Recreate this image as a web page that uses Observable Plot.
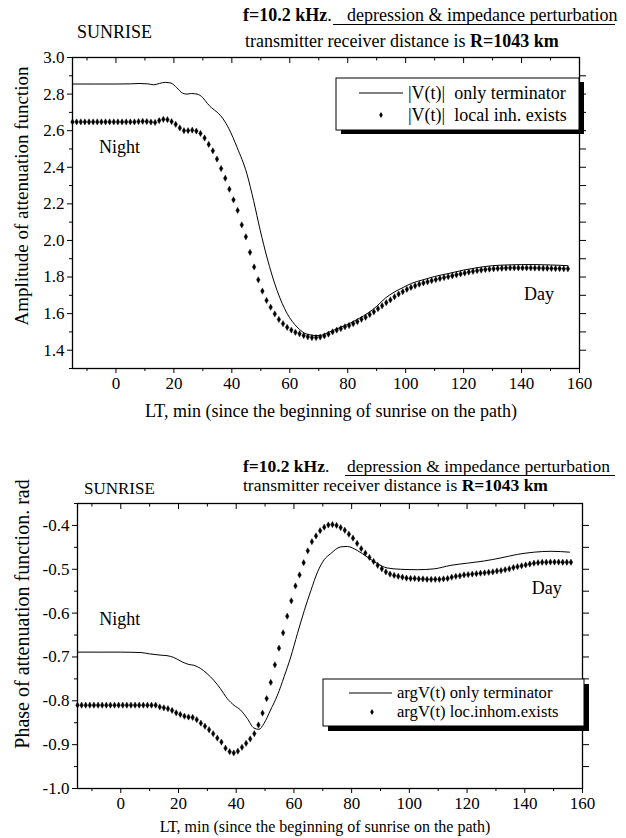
<!DOCTYPE html>
<html><head><meta charset="utf-8">
<script src="https://cdn.jsdelivr.net/npm/d3@7"></script>
<script src="https://cdn.jsdelivr.net/npm/@observablehq/plot@0.6"></script>
<style>
body{margin:0;background:#fff;}
#page{position:relative;width:626px;height:838px;overflow:hidden;font-family:"Liberation Serif",serif;}
#page > div{position:absolute;left:0;}
#page svg text{font-family:"Liberation Serif",serif !important;}
</style></head><body><div id="page"><div id="c1" style="top:0"></div><div id="c2" style="top:440px"></div></div>
<script>
// ---------- data ----------
const T0 = -15, DT = 1.425;   // sampling of the dotted series (min)

// |V(t)| only terminator (solid line): time (min) and value
const ampTermT = [-15,0,5,8,11,13,15,17,19,21,23,24.5,26,28,30,31.5,33,35,37,39,41.8,45.2,47.5,49.8,52.1,55.6,59.1,62.5,66,69.4,71,73,75.5,78,81,84,87,90,93,96,99,102,106,110,115,120,125,130,135,140,145,150,156];
const ampTermV = [2.855,2.855,2.856,2.858,2.856,2.851,2.858,2.864,2.86,2.835,2.805,2.80,2.803,2.80,2.78,2.75,2.725,2.70,2.664,2.61,2.509,2.364,2.218,2.055,1.909,1.727,1.60,1.527,1.487,1.480,1.482,1.495,1.512,1.528,1.549,1.575,1.603,1.64,1.685,1.717,1.742,1.765,1.785,1.803,1.82,1.838,1.852,1.862,1.866,1.868,1.868,1.866,1.862];
// |V(t)| local inh. exists (dots), one value per sample
const ampLocV = [2.648,2.648,2.648,2.648,2.648,2.648,2.648,2.648,2.648,2.648,2.648,2.648,2.648,2.648,2.648,2.648,2.650,2.651,2.650,
 2.647,2.645,2.655,2.662,2.660,2.650,2.635,2.615,2.600,2.600,2.603,2.598,2.585,2.560,2.525,2.490,2.445,2.393,2.340,2.280,2.222,2.164,
 2.085,2.020,1.935,1.855,1.785,1.723,1.672,1.635,1.598,1.568,1.545,1.525,1.510,1.498,1.490,1.480,1.473,1.469,1.469,1.472,
 1.478,1.488,1.500,1.510,1.518,1.528,1.535,1.545,1.556,1.569,1.580,1.595,1.610,1.627,1.643,1.660,1.675,1.692,1.707,1.720,
 1.733,1.743,1.752,1.761,1.768,1.774,1.780,1.786,1.792,1.797,1.802,1.807,1.812,1.817,1.822,1.827,1.831,1.835,1.838,1.841,
 1.843,1.845,1.847,1.848,1.849,1.850,1.850,1.850,1.850,1.850,1.850,1.849,1.849,1.848,1.848,1.847,1.846,1.846,1.845,1.845];

// argV(t) only terminator (solid line)
const phTermT = [-15,0,7,10,14,16,18.3,21.2,23.5,25.3,27.6,29.9,32.2,34.5,36.9,39.2,41.5,43.8,46.1,47.9,49.6,51.9,54.3,56.6,58.9,61.2,63.6,65.9,68.2,70.5,72.7,76.2,78.5,81.9,85.4,88.9,92.3,97,102.8,108.6,114.4,120.2,126,131.8,137.5,143.3,149.1,155.5];
const phTermV = [-0.689,-0.689,-0.690,-0.693,-0.696,-0.697,-0.701,-0.711,-0.717,-0.719,-0.726,-0.738,-0.753,-0.772,-0.795,-0.810,-0.821,-0.840,-0.862,-0.865,-0.852,-0.821,-0.787,-0.745,-0.700,-0.647,-0.594,-0.548,-0.506,-0.478,-0.4645,-0.449,-0.448,-0.457,-0.472,-0.487,-0.497,-0.500,-0.501,-0.499,-0.491,-0.486,-0.481,-0.474,-0.466,-0.461,-0.459,-0.461];
// argV(t) loc.inhom.exists (dots)
const phLocV = [-0.81,-0.81,-0.81,-0.81,-0.81,-0.81,-0.81,-0.81,-0.81,-0.81,-0.81,-0.81,-0.81,-0.81,-0.81,-0.81,-0.81,-0.81,-0.81,-0.81,
 -0.814,-0.816,-0.818,-0.822,-0.8275,-0.831,-0.835,-0.837,-0.838,-0.843,-0.851,-0.858,-0.866,-0.875,-0.885,-0.894,-0.908,-0.916,-0.919,-0.915,
 -0.906,-0.897,-0.887,-0.875,-0.855,-0.828,-0.795,-0.758,-0.718,-0.680,-0.645,-0.607,-0.572,-0.538,-0.513,-0.485,-0.458,-0.437,-0.424,-0.412,
 -0.404,-0.399,-0.398,-0.400,-0.405,-0.411,-0.420,-0.429,-0.441,-0.453,-0.463,-0.473,-0.482,-0.491,-0.499,-0.506,-0.511,-0.514,-0.516,-0.518,
 -0.520,-0.521,-0.521,-0.522,-0.522,-0.523,-0.523,-0.523,-0.523,-0.522,-0.521,-0.518,-0.516,-0.515,-0.513,-0.512,-0.511,-0.510,-0.509,-0.508,
 -0.507,-0.506,-0.504,-0.503,-0.501,-0.499,-0.496,-0.494,-0.492,-0.490,-0.488,-0.486,-0.485,-0.484,-0.484,-0.4835,-0.4835,-0.4835,-0.484,-0.484,-0.484];

// tick values / labels
const xMajor = [0,20,40,60,80,100,120,140,160];
const xMinor = [-10,10,30,50,70,90,110,130,150];
const ampMajor = [1.4,1.6,1.8,2.0,2.2,2.4,2.6,2.8,3.0];
const ampMinor = [1.3,1.5,1.7,1.9,2.1,2.3,2.5,2.7,2.9];
const ampRight = [1.4,1.5,1.6,1.7,1.8,1.9,2.0,2.1,2.2,2.3,2.4,2.5,2.6,2.7,2.8,2.9];
const phMajor = [-1.0,-0.9,-0.8,-0.7,-0.6,-0.5,-0.4];
const phMinor = [-0.95,-0.85,-0.75,-0.65,-0.55,-0.45,-0.35];
const phRight = [-0.95,-0.9,-0.85,-0.8,-0.75,-0.7,-0.65,-0.6,-0.55,-0.5,-0.45,-0.4];

// texts
const ampNotes = [{t:1.2, v:2.509, label:"Night"},{t:146, v:1.705, label:"Day"}];
const phNotes = [{t:-0.4, v:-0.614, label:"Night"},{t:147.6, v:-0.5435, label:"Day"}];
const ampYTitle = "Amplitude of attenuation function";
const phYTitle = "Phase of attenuation function. rad";
const xTitle = "LT, min (since the beginning of sunrise on the path)";
const legendAmp = ["|V(t)|  only terminator", "|V(t)|  local inh. exists"];
const legendPh = ["argV(t) only terminator", "argV(t) loc.inhom.exists"];

// ---------- build tables ----------
const ampTerm = ampTermT.map((t,i)=>({t, v:ampTermV[i]}));
const ampLoc = ampLocV.map((v,i)=>({t:T0+i*DT, v}));
const phTerm = phTermT.map((t,i)=>({t, v:phTermV[i]}));
const phLoc = phLocV.map((v,i)=>({t:T0+i*DT, v}));

const FONT = "Liberation Serif";
const fmt1 = d => d.toFixed(1);
const blank = () => "";

function chart({height, mt, mb, ml, mr, ydom, yMajor, yMinor, yRight, term, loc, notes, yTitle, yDx, yDy, yFs, xDx, xDy, xFs}) {
  const fh = height - mt - mb;
  const inner = xMajor.slice(0,-1);
  return Plot.plot({
    width: 626, height, marginTop: mt, marginBottom: mb, marginLeft: ml, marginRight: mr,
    x: {domain: [-15,160]},
    y: {domain: ydom},
    style: {fontFamily: FONT, fontSize: "16px", color: "black", background: "white", overflow: "visible"},
    marks: [
      Plot.axisX({ticks: xMajor, tickSize: 5, tickPadding: 3, tickFormat: d => String(d), label: null, fontSize: 17, fontFamily: FONT}),
      Plot.axisX({ticks: xMinor, tickSize: 3, tickFormat: blank, label: null}),
      Plot.tickX(inner, {x: d => d, insetBottom: fh - 6, strokeWidth: 1}),
      Plot.tickX(xMinor, {x: d => d, insetBottom: fh - 3.5, strokeWidth: 1}),
      Plot.axisY({ticks: yMajor, tickSize: 5, tickPadding: 3, tickFormat: fmt1, label: null, fontSize: 17, fontFamily: FONT}),
      Plot.axisY({ticks: yMinor, tickSize: 3, tickFormat: blank, label: null}),
      Plot.axisY({anchor: "right", ticks: yRight, tickSize: 6, tickFormat: blank, label: null}),
      Plot.frame({stroke: "black", strokeWidth: 1.3}),
      Plot.line(term, {x: "t", y: "v", stroke: "black", strokeWidth: 1, curve: "monotone-x"}),
      Plot.dot(loc, {x: "t", y: "v", symbol: "diamond", r: 1.9, fill: "black", stroke: "black", strokeWidth: 0.4}),
      Plot.text(notes, {x: "t", y: "v", text: "label", fontSize: 18, fontFamily: FONT, fill: "black"}),
      Plot.text([yTitle], {text: d => d, frameAnchor: "left", rotate: -90, dx: yDx, dy: yDy, fontSize: yFs, fontFamily: FONT, textAnchor: "middle", lineAnchor: "middle", fill: "black"}),
      Plot.text([xTitle], {text: d => d, frameAnchor: "bottom", dx: xDx, dy: xDy, fontSize: xFs, fontFamily: FONT, textAnchor: "middle", lineAnchor: "middle", fill: "black"})
    ]
  });
}

const p1 = chart({height: 430, mt: 57, mb: 62, ml: 72, mr: 47, ydom: [1.3, 3.0],
  yMajor: ampMajor, yMinor: ampMinor, yRight: ampRight, term: ampTerm, loc: ampLoc, notes: ampNotes,
  yTitle: ampYTitle, yDx: -51, yDy: -17, yFs: 19, xDx: 5, xDy: 43, xFs: 18});
const p2 = chart({height: 398, mt: 63, mb: 50, ml: 77, mr: 44, ydom: [-1.0, -0.35],
  yMajor: phMajor, yMinor: phMinor, yRight: phRight, term: phTerm, loc: phLoc, notes: phNotes,
  yTitle: phYTitle, yDx: -55, yDy: -32, yFs: 20, xDx: -5, xDy: 38, xFs: 16});
document.getElementById("c1").appendChild(p1);
document.getElementById("c2").appendChild(p2);

// ---------- overlay: headers and legends ----------
const ov = d3.select("#page").append("svg")
  .attr("width", 626).attr("height", 838)
  .style("position", "absolute").style("left", 0).style("top", 0)
  .style("pointer-events", "none")
  .attr("font-family", FONT);

function txt(x, y, fs) {
  return ov.append("text").attr("x", x).attr("y", y).attr("font-size", fs).attr("font-family", FONT).attr("fill", "black");
}
function header(o) {
  txt(o.sx, o.sy, o.sfs).text("SUNRISE");
  const l1 = txt(o.fx, o.y1, o.fs);
  l1.append("tspan").attr("font-weight", "bold").text("f=10.2 kHz");
  l1.append("tspan").text(".");
  txt(o.dx, o.y1, o.fs).text("depression & impedance perturbation");
  ov.append("line").attr("x1", o.ux1).attr("x2", 615).attr("y1", o.uy).attr("y2", o.uy).attr("stroke", "black").attr("stroke-width", 1.2);
  const l2 = txt(o.tx, o.y2, o.fs);
  l2.append("tspan").text("transmitter receiver distance is ");
  l2.append("tspan").attr("font-weight", "bold").text("R=1043 km");
}
header({sx: 77, sy: 38, sfs: 18, fx: 243, dx: 347, y1: 21, ux1: 333, uy: 24.5, tx: 245, y2: 47, fs: 18});
header({sx: 84, sy: 494, sfs: 17, fx: 243, dx: 347, y1: 472, ux1: 345, uy: 475.5, tx: 243, y2: 491, fs: 17.5});

function legend(o) {
  ov.append("rect").attr("x", o.x + o.sh).attr("y", o.y + o.sv).attr("width", o.w).attr("height", o.h).attr("fill", "black");
  ov.append("rect").attr("x", o.x).attr("y", o.y).attr("width", o.w).attr("height", o.h).attr("fill", "white").attr("stroke", "black").attr("stroke-width", 1);
  ov.append("line").attr("x1", o.lx1).attr("x2", o.lx2).attr("y1", o.r1).attr("y2", o.r1).attr("stroke", "black").attr("stroke-width", 1);
  ov.append("path").attr("d", d3.symbol(d3.symbolDiamond, 11)()).attr("transform", `translate(${o.dotx},${o.r2})`).attr("fill", "black");
  txt(o.tx, o.r1, o.fs).attr("dy", "0.32em").style("white-space", "pre").text(o.labels[0]);
  txt(o.tx, o.r2, o.fs).attr("dy", "0.32em").style("white-space", "pre").text(o.labels[1]);
}
legend({x: 336, y: 78, w: 243, h: 52, sh: 5, sv: 4, lx1: 359, lx2: 403, r1: 93, r2: 115, dotx: 381, tx: 408, fs: 18, labels: legendAmp});
legend({x: 323, y: 679, w: 261, h: 47, sh: 5, sv: 5, lx1: 349, lx2: 392, r1: 693, r2: 712, dotx: 372, tx: 397, fs: 16.6, labels: legendPh});
</script></body></html>
